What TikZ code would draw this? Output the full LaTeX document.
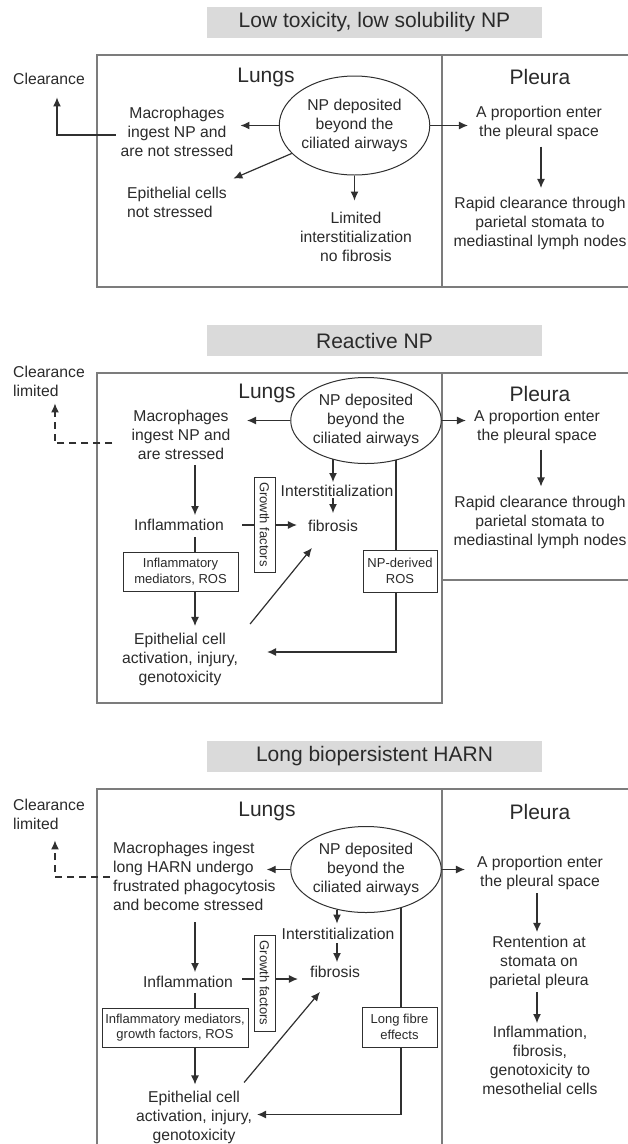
\documentclass[tikz,border=0pt]{standalone}
\usepackage{fontspec}
\setmainfont{Liberation Sans}
\usetikzlibrary{arrows.meta,shapes.geometric}
\definecolor{ink}{HTML}{2A2A2A}
\definecolor{framec}{HTML}{7C7C7C}
\definecolor{bandc}{HTML}{DADADA}
\definecolor{linec}{HTML}{303030}
\newcommand\bodyfont{\fontsize{15.7}{19}\selectfont}
\newcommand\headfont{\fontsize{21}{25}\selectfont}
\newcommand\tagfont{\fontsize{13}{15.5}\selectfont}
\tikzset{
  txt/.style={font=\bodyfont, text=ink, align=center, inner sep=0pt},
  txtl/.style={txt, align=left},
  head/.style={font=\headfont, text=ink, inner sep=0pt},
  band/.style={fill=bandc, minimum width=335pt, minimum height=31pt, font=\headfont, text=ink, inner sep=0pt},
  frame/.style={draw=framec, line width=1.8pt},
  site/.style={ellipse, draw=linec, line width=1pt, font=\bodyfont, text=ink, align=center, inner sep=0pt},
  tag/.style={draw=linec, line width=1pt, fill=white, font=\tagfont, text=ink, align=center, inner sep=0pt},
  conn/.style={draw=linec, line width=1.2pt},
  arr/.style={conn, -{Latex[length=9pt,width=8pt]}},
  darr/.style={arr, dash pattern=on 7pt off 5pt},
}
\begin{document}
\begin{tikzpicture}[x=1pt,y=-1pt]
\useasboundingbox (0,0) rectangle (627,1144);

% ================= Low toxicity, low solubility NP =================
\node[band] (t1) at (374.5,22.5) {Low toxicity, low solubility NP};
\draw[frame] (97,55) rectangle (442,287);
\draw[frame] (442,55) -- (640,55) (442,287) -- (640,287);
\node[head] (lu1) at (266,77) {Lungs};
\node[head] (pl1) at (540,77) {Pleura};
\node[site, minimum width=135pt, minimum height=99pt] (e1) at (354.5,125.5) {NP deposited\\beyond the\\ciliated airways};
\node[txt] (cl1) at (49,79) {Clearance};
\node[txt] (m1) at (177,131.5) {Macrophages\\ingest NP and\\are not stressed};
\node[txtl, anchor=west] (ep1) at (127,202.5) {Epithelial cells\\not stressed};
\node[txt] (li1) at (356,237) {Limited\\interstitialization\\no fibrosis};
\node[txt] (pr1) at (539,123) {A proportion enter\\the pleural space};
\node[txt] (ra1) at (540,223) {Rapid clearance through\\parietal stomata to\\mediastinal lymph nodes};
\coordinate (ax1) at (541,0);

\draw[arr, shorten >=7pt] (e1.west) -- (e1.west -| m1.east);
\draw[arr, shorten >=12.5pt] ([shift={(-5,3.5)}]m1.west) -| ([shift={(8,0)}]cl1.south);
\draw[arr] (e1.204) -- ([shift={(6.5,-8.5)}]ep1.north east);
\draw[arr, shorten >=11.5pt] (e1.south) -- (e1.south |- li1.north);
\draw[arr, shorten >=8pt] (e1.east) -- (e1.east -| pr1.west);
\draw[arr, shorten <=6.5pt, shorten >=8.5pt] (pr1.south -| ax1) -- (ra1.north -| ax1);

% ================= Reactive NP =================
\node[band] (t2) at (374.5,340.5) {Reactive NP};
\draw[frame] (97,373) rectangle (442,703);
\draw[frame] (442,373) -- (640,373) (442,580) -- (640,580);
\node[head] (lu2) at (267,393) {Lungs};
\node[head] (pl2) at (540,394) {Pleura};
\node[site, minimum width=142pt, minimum height=86pt] (e2) at (366,420.5) {NP deposited\\beyond the\\ciliated airways};
\node[txtl, anchor=west] (cl2) at (13,381) {Clearance\\limited};
\node[txt] (m2) at (181,435) {Macrophages\\ingest NP and\\are stressed};
\node[txt] (in2) at (179,525) {Inflammation};
\node[tag, minimum width=115pt, minimum height=39pt] (ib2) at (180.5,571.5) {Inflammatory\\mediators, ROS};
\node[txt] (ep2) at (180,659) {Epithelial cell\\activation, injury,\\genotoxicity};
\node[tag, rotate=-90, minimum width=95pt, minimum height=21pt] (gf2) at (264.5,524.5) {Growth factors};
\node[txt] (it2) at (337,491) {Interstitialization};
\node[txt] (fb2) at (333,526) {fibrosis};
\node[tag, minimum width=74pt, minimum height=42pt] (nd2) at (400,571) {NP-derived\\ROS};
\node[txt] (pr2) at (537,427) {A proportion enter\\the pleural space};
\node[txt] (ra2) at (540,522.5) {Rapid clearance through\\parietal stomata to\\mediastinal lymph nodes};
\coordinate (ax2) at (195,0);
\coordinate (ax2b) at (333,0);
\coordinate (ax2c) at (396,0);
\coordinate (ax2d) at (541,0);

\draw[arr, shorten >=16.5pt] (e2.west) -- (e2.west -| m2.east);
\draw[darr, shorten >=7pt] ([shift={(-19,8)}]m2.west) -| ([shift={(6,0)}]cl2.south);
\draw[arr, shorten <=5pt, shorten >=4pt] (m2.south -| ax2) -- (in2.north -| ax2);
\draw[conn, shorten <=6pt] (in2.south -| ax2) -- (ib2.north -| ax2);
\draw[arr, shorten >=6.5pt] (ib2.south -| ax2) -- (ep2.north -| ax2);
\draw[conn, shorten <=18pt] (in2.east) -- (in2.east -| gf2.south);
\draw[arr, shorten >=11pt] (in2.east -| gf2.north) -- (in2.east -| fb2.west);
\draw[arr, shorten >=3pt] (e2.-131 -| ax2b) -- (it2.north -| ax2b);
\draw[arr, shorten <=1.5pt, shorten >=7pt] (it2.south -| ax2b) -- (fb2.north -| ax2b);
\draw[arr] ([shift={(12,-8.5)}]ep2.north east) -- ([shift={(4,16)}]fb2.south west);
\draw[conn] (e2.-52 -| ax2c) -- (nd2.north -| ax2c);
\draw[arr] (nd2.south -| ax2c) |- ([shift={(29,-7)}]ep2.east);
\draw[arr, shorten >=8pt] (e2.east) -- (e2.east -| pr2.west);
\draw[arr, shorten <=5.5pt, shorten >=9.5pt] (pr2.south -| ax2d) -- (ra2.north -| ax2d);

% ================= Long biopersistent HARN =================
\node[band] (t3) at (374.5,756.5) {Long biopersistent HARN};
\draw[frame] (97,1150) -- (97,789) -- (442,789) -- (442,1150);
\draw[frame] (442,789) -- (640,789);
\node[head] (lu3) at (267,811) {Lungs};
\node[head] (pl3) at (540,812) {Pleura};
\node[site, minimum width=142pt, minimum height=86pt] (e3) at (366,869.5) {NP deposited\\beyond the\\ciliated airways};
\node[txtl, anchor=west] (cl3) at (13,814) {Clearance\\limited};
\node[txtl, anchor=west] (m3) at (113,876) {Macrophages ingest\\long HARN undergo\\frustrated phagocytosis\\and become stressed};
\node[txt] (in3) at (188,982) {Inflammation};
\node[tag, minimum width=146pt, minimum height=39pt] (ib3) at (175,1027.5) {Inflammatory mediators,\\growth factors, ROS};
\node[txt] (ep3) at (194,1117.5) {Epithelial cell\\activation, injury,\\genotoxicity};
\node[tag, rotate=-90, minimum width=96pt, minimum height=21pt] (gf3) at (264.5,983) {Growth factors};
\node[txt] (it3) at (338,934) {Interstitialization};
\node[txt] (fb3) at (335,972) {fibrosis};
\node[tag, minimum width=75pt, minimum height=40pt] (lf3) at (399.5,1027) {Long fibre\\effects};
\node[txt] (pr3) at (540,873) {A proportion enter\\the pleural space};
\node[txt] (re3) at (539,962) {Rentention at\\stomata on\\parietal pleura};
\node[txt] (ip3) at (540,1060) {Inflammation,\\fibrosis,\\genotoxicity to\\mesothelial cells};
\coordinate (ax3) at (195,0);
\coordinate (ax3b) at (337,0);
\coordinate (ax3c) at (401,0);
\coordinate (ax3d) at (537,0);
\coordinate (hy3) at (0,979);

\draw[arr, shorten >=-9pt] (e3.west) -- (e3.west -| m3.east);
\draw[darr, shorten >=11pt] ([shift={(-3,1)}]m3.west) -| ([shift={(6,0)}]cl3.south);
\draw[arr, shorten <=12pt, shorten >=4pt] (m3.south -| ax3) -- (in3.north -| ax3);
\draw[conn, shorten <=5pt] (in3.south -| ax3) -- (ib3.north -| ax3);
\draw[arr, shorten >=6.5pt] (ib3.south -| ax3) -- (ep3.north -| ax3);
\draw[conn, shorten <=9pt] (in3.east |- hy3) -- (gf3.south |- hy3);
\draw[arr, shorten >=12pt] (gf3.north |- hy3) -- (fb3.west |- hy3);
\draw[arr, shorten >=4.5pt] (e3.-126.5 -| ax3b) -- (it3.north -| ax3b);
\draw[arr, shorten <=3.5pt, shorten >=4pt] (it3.south -| ax3b) -- (fb3.north -| ax3b);
\draw[arr] ([shift={(-8,-8.5)}]ep3.north east) -- ([shift={(10,14)}]fb3.south west);
\draw[conn] (e3.-47 -| ax3c) -- (lf3.north -| ax3c);
\draw[arr] (lf3.south -| ax3c) |- ([shift={(5,-3)}]ep3.east);
\draw[arr, shorten >=12pt] (e3.east) -- (e3.east -| pr3.west);
\draw[arr, shorten <=3pt, shorten >=3.5pt] (pr3.south -| ax3d) -- (re3.north -| ax3d);
\draw[arr, shorten <=3.5pt, shorten >=2.5pt] (re3.south -| ax3d) -- (ip3.north -| ax3d);
\end{tikzpicture}
\end{document}
